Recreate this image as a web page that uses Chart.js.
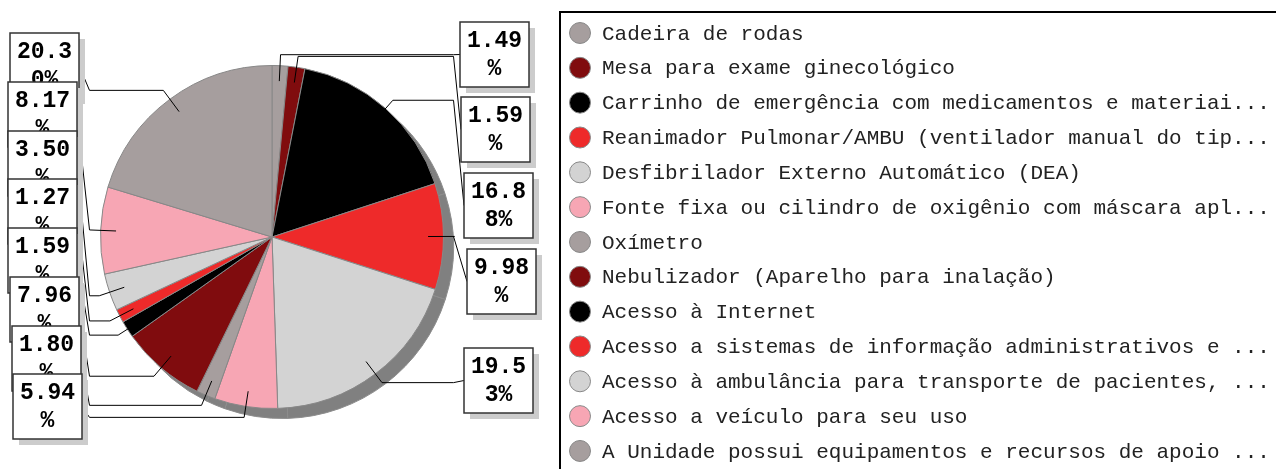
<!DOCTYPE html>
<html>
<head>
<meta charset="utf-8">
<script src="https://cdn.jsdelivr.net/npm/chart.js@4.4.1/dist/chart.umd.min.js"></script>
<style>
  html, body { margin: 0; padding: 0; background: #fff; }
  #wrap { width: 1276px; height: 469px; position: relative; }
</style>
</head>
<body>
<div id="wrap"><canvas id="pieChart"></canvas></div>
<script>
const categories = [
    'Cadeira de rodas',
    'Mesa para exame ginecológico',
    'Carrinho de emergência com medicamentos e materiai...',
    'Reanimador Pulmonar/AMBU (ventilador manual do tip...',
    'Desfibrilador Externo Automático (DEA)',
    'Fonte fixa ou cilindro de oxigênio com máscara apl...',
    'Oxímetro',
    'Nebulizador (Aparelho para inalação)',
    'Acesso à Internet',
    'Acesso a sistemas de informação administrativos e ...',
    'Acesso à ambulância para transporte de pacientes, ...',
    'Acesso a veículo para seu uso',
    'A Unidade possui equipamentos e recursos de apoio ...',
];
const percentages = [1.49, 1.59, 16.88, 9.98, 19.53, 5.94, 1.80, 7.96, 1.59, 1.27, 3.50, 8.17, 20.30];
const sliceColors = [
    '#a69e9e', '#800c0e', '#000000', '#ee2a2a', '#d3d3d3', '#f7a6b4',
    '#a69e9e', '#800c0e', '#000000', '#ee2a2a', '#d3d3d3', '#f7a6b4', '#a69e9e',
];

// label box top-left corners, per slice
const boxPos = [
    [460, 22], [461, 97], [464, 173], [467, 249], [464, 348],
    [13, 374], [12, 326], [10, 277], [8, 228], [8, 179], [8, 131], [8, 82], [10, 33],
];
// drawing order: left column top to bottom, then right column
const boxOrder = [12, 11, 10, 9, 8, 7, 6, 5, 0, 1, 2, 3, 4];

const shadowPlugin = {
    id: 'pieShadow',
    beforeDatasetsDraw(chart) {
        const ctx = chart.ctx;
        chart.getDatasetMeta(0).data.forEach((arc) => {
            const p = arc.getProps(['x', 'y', 'startAngle', 'endAngle', 'outerRadius'], true);
            ctx.save();
            ctx.beginPath();
            ctx.moveTo(p.x + 10, p.y + 10);
            ctx.arc(p.x + 10, p.y + 10, p.outerRadius, p.startAngle, p.endAngle);
            ctx.closePath();
            ctx.fillStyle = '#808080';
            ctx.fill();
            ctx.strokeStyle = '#8c8c8c';
            ctx.lineWidth = 1;
            ctx.stroke();
            ctx.restore();
        });
    },
};

const labelPlugin = {
    id: 'boxLabels',
    afterDatasetsDraw(chart) {
        const ctx = chart.ctx;
        const arcs = chart.getDatasetMeta(0).data;
        const W = 69, H = 65;
        // leader lines
        arcs.forEach((arc, i) => {
            const p = arc.getProps(['x', 'y', 'startAngle', 'endAngle', 'outerRadius'], true);
            const mid = (p.startAngle + p.endAngle) / 2;
            const r = p.outerRadius;
            const ax = p.x + Math.cos(mid) * r * 0.91, ay = p.y + Math.sin(mid) * r * 0.91;
            const ex = p.x + Math.cos(mid) * (r + 11), ey = p.y + Math.sin(mid) * (r + 11);
            const right = Math.cos(mid) >= 0;
            const hx = right ? p.x + r + 10 : p.x - r - 11;
            const [bx, by] = boxPos[i];
            ctx.save();
            ctx.strokeStyle = '#000';
            ctx.lineWidth = 1;
            ctx.beginPath();
            ctx.moveTo(ax, ay);
            ctx.lineTo(ex, ey);
            ctx.lineTo(hx, ey);
            ctx.lineTo(right ? bx : bx + W, by + H / 2);
            ctx.stroke();
            ctx.restore();
        });
        // boxes
        boxOrder.forEach((i) => {
            const [bx, by] = boxPos[i];
            const txt = chart.data.datasets[0].data[i].toFixed(2) + '%';
            const lines = [txt.slice(0, 4), txt.slice(4)];
            ctx.save();
            ctx.fillStyle = '#cccccc';
            ctx.fillRect(bx + 6, by + 6, W, H);
            ctx.fillStyle = '#fff';
            ctx.fillRect(bx, by, W, H);
            ctx.strokeStyle = '#333';
            ctx.lineWidth = 1.5;
            ctx.strokeRect(bx, by, W, H);
            ctx.fillStyle = '#000';
            ctx.font = 'bold 23px "Liberation Mono", monospace';
            ctx.textAlign = 'center';
            ctx.textBaseline = 'middle';
            ctx.fillText(lines[0], bx + W / 2, by + 19);
            ctx.fillText(lines[1], bx + W / 2, by + 47);
            ctx.restore();
        });
    },
};

const legendPlugin = {
    id: 'sideLegend',
    afterDraw(chart) {
        const ctx = chart.ctx;
        const ds = chart.data.datasets[0];
        ctx.save();
        ctx.strokeStyle = '#000';
        ctx.lineWidth = 2;
        ctx.strokeRect(560, 12, 760, 480);
        ctx.font = '21px "Liberation Mono", monospace';
        ctx.textBaseline = 'middle';
        chart.data.labels.forEach((lab, i) => {
            const y = 33 + i * 34.83;
            ctx.beginPath();
            ctx.arc(580, y, 10.5, 0, Math.PI * 2);
            ctx.fillStyle = ds.backgroundColor[i];
            ctx.fill();
            ctx.strokeStyle = '#888';
            ctx.lineWidth = 1;
            ctx.stroke();
            ctx.fillStyle = '#222';
            ctx.fillText(lab, 602, y + 1);
        });
        ctx.restore();
    },
};

new Chart(document.getElementById('pieChart'), {
    type: 'pie',
    data: {
        labels: categories,
        datasets: [{
            data: percentages,
            backgroundColor: sliceColors,
            borderColor: '#888888',
            borderWidth: 1,
        }],
    },
    options: {
        responsive: true,
        maintainAspectRatio: false,
        animation: false,
        layout: { padding: { left: 100, right: 832, top: 65, bottom: 60 } },
        plugins: { legend: { display: false }, tooltip: { enabled: false } },
    },
    plugins: [shadowPlugin, labelPlugin, legendPlugin],
});
</script>
</body>
</html>
